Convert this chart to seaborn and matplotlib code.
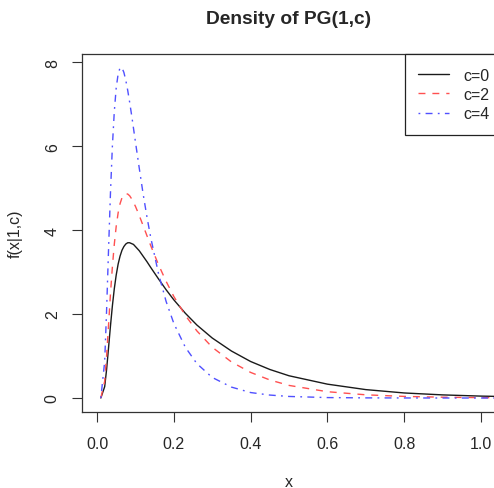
import matplotlib
matplotlib.use("Agg")
import matplotlib.pyplot as plt
import pandas as pd
import seaborn as sns

# values
x = [0.01, 0.02, 0.025, 0.03, 0.035, 0.04, 0.045, 0.05, 0.055, 0.06,
     0.065, 0.07, 0.075, 0.08, 0.085, 0.09, 0.095, 0.10, 0.11, 0.12,
     0.13, 0.14, 0.16, 0.18, 0.20, 0.23, 0.26, 0.30, 0.35, 0.40,
     0.45, 0.50, 0.60, 0.70, 0.80, 0.90, 1.00, 1.10]
dens_c0 = [0.00, 0.27, 0.68, 1.19, 1.71, 2.19, 2.60, 2.93, 3.19, 3.38,
           3.52, 3.61, 3.67, 3.70, 3.70, 3.68, 3.66, 3.61, 3.51, 3.38,
           3.25, 3.11, 2.84, 2.58, 2.34, 2.02, 1.74, 1.43, 1.12, 0.87,
           0.68, 0.53, 0.33, 0.20, 0.12, 0.074, 0.045, 0.028]
dens_c2 = [0.00, 0.40, 1.00, 1.73, 2.47, 3.12, 3.66, 4.09, 4.41, 4.63,
           4.77, 4.84, 4.87, 4.86, 4.82, 4.75, 4.66, 4.57, 4.35, 4.11,
           3.87, 3.63, 3.18, 2.78, 2.42, 1.97, 1.60, 1.21, 0.86, 0.61,
           0.43, 0.30, 0.15, 0.076, 0.038, 0.019, 0.009, 0.005]
dens_c4 = [0.00, 0.87, 2.09, 3.52, 4.87, 5.99, 6.82, 7.39, 7.72, 7.87,
           7.87, 7.76, 7.57, 7.33, 7.05, 6.75, 6.43, 6.11, 5.48, 4.87,
           4.32, 3.82, 2.97, 2.30, 1.78, 1.21, 0.82, 0.49, 0.26, 0.13,
           0.07, 0.037, 0.010, 0.003, 0.001, 0.0, 0.0, 0.0]
labels = ["c=0", "c=2", "c=4"]
x_ticks = [0.0, 0.2, 0.4, 0.6, 0.8, 1.0]
y_ticks = [0, 2, 4, 6, 8]

sns.set_style("white")
plt.rcParams['font.family'] = ['Liberation Sans', 'DejaVu Sans']

df = pd.DataFrame({"x": x, "c=0": dens_c0, "c=2": dens_c2, "c=4": dens_c4})

fig = plt.figure(figsize=(4.94, 4.89), dpi=100)
ax = fig.add_axes([82 / 494, 1 - 413 / 489, 414 / 494, 358 / 489])

styles = {
    "c=0": dict(color="#1a1a1a", linestyle="-"),
    "c=2": dict(color="#ff5050", linestyle=(0, (5, 5))),
    "c=4": dict(color="#5050ff", linestyle=(0, (1.3, 3.8, 5, 3.8))),
}
for lab in labels:
    sns.lineplot(data=df, x="x", y=lab, ax=ax, label=lab, lw=1.0,
                 **styles[lab])

ax.set_xlim(-15 / 384, 399 / 384)
ax.set_ylim(-14 / 41.96, 344 / 41.96)
ax.set_xticks(x_ticks)
ax.set_xticklabels(["0.0", "0.2", "0.4", "0.6", "0.8", "1.0"])
ax.set_yticks(y_ticks)
ax.set_yticklabels([str(v) for v in y_ticks], rotation=90, va="center")
ax.tick_params(axis="both", direction="out", length=7, width=0.8,
               color="#333333", labelsize=11.5, pad=9, bottom=True, left=True)
ax.tick_params(axis="x", pad=10)
for sp in ax.spines.values():
    sp.set_color("#333333")
    sp.set_linewidth(0.9)

ax.set_xlabel("x", fontsize=11.5, labelpad=17)
ax.set_ylabel("f(x|1,c)", fontsize=11.5, labelpad=16)
ax.set_title("Density of PG(1,c)", fontsize=13.8, fontweight="bold", pad=22)

# legend box runs past the right edge of the picture, as in the reference
leg = ax.legend(loc="upper right", bbox_to_anchor=(1 + 7 / 414, 1),
                borderaxespad=0, fancybox=False,
                edgecolor="#222222", fontsize=11.5, handlelength=1.9,
                handletextpad=0.9, borderpad=0.85, labelspacing=0.27,
                framealpha=1)
leg.get_frame().set_linewidth(0.9)

fig.savefig("out.png", dpi=100)
